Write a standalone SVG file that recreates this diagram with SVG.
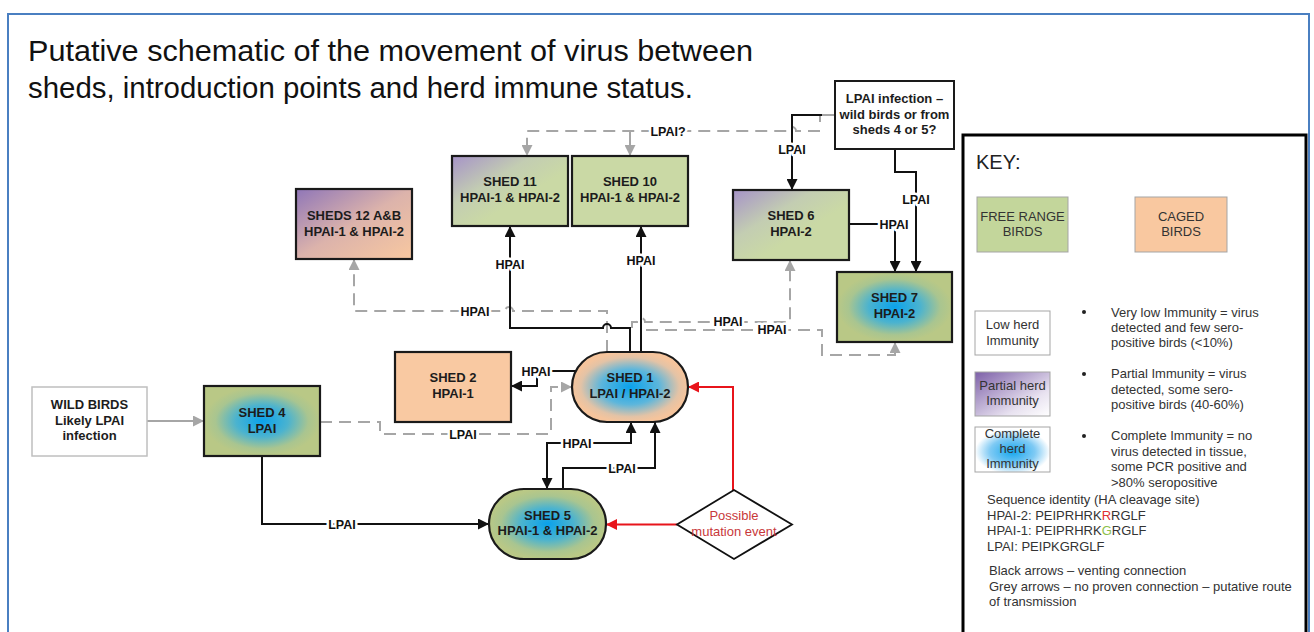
<svg xmlns="http://www.w3.org/2000/svg" width="1314" height="632" viewBox="0 0 1314 632">
<style>
.n{stroke:#1a1a1a;stroke-width:2.2}
.t{font-family:"Liberation Sans",Arial,sans-serif;font-weight:bold;font-size:13px;fill:#1c1c1c;text-anchor:middle}
.lb{font-family:"Liberation Sans",Arial,sans-serif;font-weight:bold;font-size:12.5px;fill:#111;text-anchor:middle;stroke:#fff;stroke-width:5;paint-order:stroke;stroke-linejoin:round}
.b{fill:none;stroke:#111;stroke-width:2}
.g{fill:none;stroke:#a6a6a6;stroke-width:2;stroke-dasharray:12 7}
.gs{fill:none;stroke:#a6a6a6;stroke-width:2}
.r{fill:none;stroke:#e8141b;stroke-width:2}
.k{font-family:"Liberation Sans",Arial,sans-serif;font-size:13px;fill:#333}
.kc{font-family:"Liberation Sans",Arial,sans-serif;font-size:13px;fill:#333;text-anchor:middle}
.kb{stroke:#a5a5a5;stroke-width:1}
.title{font-family:"Liberation Sans",Arial,sans-serif;font-size:29px;fill:#111}
</style>
<defs>
<marker id="ab" viewBox="0 0 10 10" refX="10" refY="5" markerWidth="11" markerHeight="11" markerUnits="userSpaceOnUse" orient="auto-start-reverse"><path d="M0,0 L10,5 L0,10 z" fill="#111"/></marker>
<marker id="ag" viewBox="0 0 10 10" refX="10" refY="5" markerWidth="11" markerHeight="11" markerUnits="userSpaceOnUse" orient="auto"><path d="M0,0 L10,5 L0,10 z" fill="#a6a6a6"/></marker>
<marker id="ar" viewBox="0 0 10 10" refX="10" refY="5" markerWidth="11" markerHeight="11" markerUnits="userSpaceOnUse" orient="auto"><path d="M0,0 L10,5 L0,10 z" fill="#e8141b"/></marker>
<radialGradient id="gBlue" cx=".5" cy=".5" r=".5">
<stop offset="0" stop-color="#0aa2ec"/>
<stop offset=".45" stop-color="#4bb3cf"/>
<stop offset=".8" stop-color="#a9c590"/>
<stop offset="1" stop-color="#b9c886"/>
</radialGradient>
<radialGradient id="pBlue" cx=".5" cy=".5" r=".5">
<stop offset="0" stop-color="#0aa2ec"/>
<stop offset=".5" stop-color="#5cb6dc"/>
<stop offset=".85" stop-color="#e3c3a6"/>
<stop offset="1" stop-color="#f5c49c"/>
</radialGradient>
<linearGradient id="pGreen" x1="0" y1="0" x2="1" y2="1">
<stop offset="0" stop-color="#a693c8"/>
<stop offset=".35" stop-color="#c3cdb2"/>
<stop offset=".6" stop-color="#cad9a5"/>
<stop offset="1" stop-color="#cad9a5"/>
</linearGradient>
<linearGradient id="pPeach" x1="0" y1="0" x2="1" y2="1">
<stop offset="0" stop-color="#8f76b8"/>
<stop offset=".5" stop-color="#dcb3ab"/>
<stop offset="1" stop-color="#f8c8a0"/>
</linearGradient>
<linearGradient id="kPart" x1="0" y1="0" x2="1" y2="1">
<stop offset="0" stop-color="#7d60a8"/>
<stop offset=".7" stop-color="#e8e2f0"/>
<stop offset="1" stop-color="#ffffff"/>
</linearGradient>
<radialGradient id="kComp" cx=".5" cy=".55" r=".5">
<stop offset="0" stop-color="#16a6ee"/>
<stop offset=".6" stop-color="#7fcaf4"/>
<stop offset="1" stop-color="#ffffff"/>
</radialGradient>
</defs>
<rect x="0" y="0" width="1314" height="632" fill="#fff"/>
<rect x="8" y="14" width="1301" height="650" fill="none" stroke="#4a7fc1" stroke-width="2"/>

<g id="title">
<text class="title" x="28" y="61" textLength="725" lengthAdjust="spacingAndGlyphs">Putative schematic of the movement of virus between</text>
<text class="title" x="28" y="98" textLength="665" lengthAdjust="spacingAndGlyphs">sheds, introduction points and herd immune status.</text>
</g>

<g id="connectors">
<!-- grey -->
<path class="gs" d="M147,421 H204" marker-end="url(#ag)"/>
<path class="g" d="M320,422 H380 V434 H551 V387 H572" marker-end="url(#ag)"/>
<path class="g" d="M607,352 V311 H513 a4,4 0 0 0 -8,0 H354 V259" marker-end="url(#ag)"/>
<path class="g" d="M632,328 V322 H637 a4,4 0 0 1 8,0 H790 V260" marker-end="url(#ag)"/>
<path class="g" d="M646,330 H822 V355 H895 V342" marker-end="url(#ag)"/>
<path class="gs" d="M835,115 H820 V122"/>
<path class="g" d="M820,131 H796 a4,4 0 0 0 -8,0 H527 V156" marker-end="url(#ag)"/>
<path class="gs" d="M630,131 V156" marker-end="url(#ag)"/>
<!-- black -->
<path class="b" d="M262,456 V524 H489" marker-end="url(#ab)"/>
<path class="b" d="M576,371 H537 V386 H511" marker-end="url(#ab)"/>
<path class="b" d="M630,352 V328 H611 a4,4 0 0 0 -8,0 H510 V226" marker-end="url(#ab)"/>
<path class="b" d="M641,352 V226" marker-end="url(#ab)"/>
<path class="b" d="M822,115 H792 V190" marker-end="url(#ab)"/>
<path class="b" d="M895,149 V172 H916 V272" marker-end="url(#ab)"/>
<path class="b" d="M849,224 H895 V272" marker-end="url(#ab)"/>
<path class="b" d="M563,489 V468 H655 V422" marker-end="url(#ab)"/>
<path class="b" d="M547,489 V443 H631 V422" marker-start="url(#ab)" marker-end="url(#ab)"/>
<!-- red -->
<path class="r" d="M733,490 V387 H688" marker-end="url(#ar)"/>
<path class="r" d="M677,524.5 H606" marker-end="url(#ar)"/>
<!-- labels -->
<text class="lb" x="342" y="528.5">LPAI</text>
<text class="lb" x="536" y="376">HPAI</text>
<text class="lb" x="510" y="268.5">HPAI</text>
<text class="lb" x="641" y="264.5">HPAI</text>
<text class="lb" x="792" y="153.5">LPAI</text>
<text class="lb" x="916" y="204">LPAI</text>
<text class="lb" x="894" y="229">HPAI</text>
<text class="lb" x="622" y="472.5">LPAI</text>
<text class="lb" x="577" y="447.5">HPAI</text>
<text class="lb" x="463" y="438.5">LPAI</text>
<text class="lb" x="475" y="315.5">HPAI</text>
<text class="lb" x="728" y="326">HPAI</text>
<text class="lb" x="772" y="334">HPAI</text>
<text class="lb" x="668" y="135.5">LPAI?</text>
</g>

<g id="wild-birds">
<rect x="32" y="387" width="115" height="69" fill="#fff" stroke="#bfbfbf" stroke-width="1.5"/>
<text class="t" x="89.5" y="409">WILD BIRDS</text>
<text class="t" x="89.5" y="425">Likely LPAI</text>
<text class="t" x="89.5" y="440">infection</text>
</g>
<g id="shed4">
<rect class="n" x="204" y="386" width="116" height="70" fill="url(#gBlue)"/>
<text class="t" x="262" y="417">SHED 4</text>
<text class="t" x="262" y="433">LPAI</text>
</g>
<g id="shed2">
<rect class="n" x="395" y="352" width="116" height="70" fill="#f9c9a2"/>
<text class="t" x="453" y="382">SHED 2</text>
<text class="t" x="453" y="398">HPAI-1</text>
</g>
<g id="shed12">
<rect class="n" x="296" y="189" width="116" height="70" fill="url(#pPeach)"/>
<text class="t" x="354" y="220">SHEDS 12 A&amp;B</text>
<text class="t" x="354" y="236">HPAI-1 &amp; HPAI-2</text>
</g>
<g id="shed11">
<rect class="n" x="452" y="156" width="116" height="70" fill="url(#pGreen)"/>
<text class="t" x="510" y="186">SHED 11</text>
<text class="t" x="510" y="202">HPAI-1 &amp; HPAI-2</text>
</g>
<g id="shed10">
<rect class="n" x="572" y="156" width="116" height="70" fill="#cad9a5"/>
<text class="t" x="630" y="186">SHED 10</text>
<text class="t" x="630" y="202">HPAI-1 &amp; HPAI-2</text>
</g>
<g id="shed6">
<rect class="n" x="733" y="190" width="116" height="70" fill="url(#pGreen)"/>
<text class="t" x="791" y="220">SHED 6</text>
<text class="t" x="791" y="236">HPAI-2</text>
</g>
<g id="shed7">
<rect class="n" x="837" y="272" width="115" height="70" fill="url(#gBlue)"/>
<text class="t" x="894.5" y="302">SHED 7</text>
<text class="t" x="894.5" y="318">HPAI-2</text>
</g>
<g id="lpai-source">
<rect x="835" y="81" width="119" height="68" fill="#fff" stroke="#1a1a1a" stroke-width="2"/>
<text class="t" x="894.5" y="103">LPAI infection –</text>
<text class="t" x="894.5" y="119">wild birds or from</text>
<text class="t" x="894.5" y="134">sheds 4 or 5?</text>
</g>
<g id="shed1">
<rect class="n" x="572" y="352" width="116" height="70" rx="35" ry="35" fill="url(#pBlue)"/>
<text class="t" x="630" y="382">SHED 1</text>
<text class="t" x="630" y="398">LPAI / HPAI-2</text>
</g>
<g id="shed5">
<rect class="n" x="489" y="489" width="117" height="70" rx="35" ry="35" fill="url(#gBlue)"/>
<text class="t" x="547.5" y="520">SHED 5</text>
<text class="t" x="547.5" y="535">HPAI-1 &amp; HPAI-2</text>
</g>
<g id="mutation">
<polygon points="734,490 792,524.5 734,559 677,524.5" fill="#fff" stroke="#111" stroke-width="1.8"/>
<text x="734" y="520" font-family="Liberation Sans, Arial, sans-serif" font-size="13" fill="#c8383a" text-anchor="middle">Possible</text>
<text x="734" y="536" font-family="Liberation Sans, Arial, sans-serif" font-size="13" fill="#c8383a" text-anchor="middle">mutation event</text>
</g>

<g id="key">
<rect x="963" y="135" width="343" height="520" fill="#fff" stroke="#000" stroke-width="3"/>
<text x="976" y="169" font-family="Liberation Sans, Arial, sans-serif" font-size="20" fill="#222">KEY:</text>
<rect class="kb" x="977" y="197" width="91" height="55" fill="#c3d69b"/>
<text class="kc" x="1022.5" y="221">FREE RANGE</text>
<text class="kc" x="1022.5" y="236">BIRDS</text>
<rect class="kb" x="1135" y="197" width="92" height="55" fill="#f9c8a0"/>
<text class="kc" x="1181" y="221">CAGED</text>
<text class="kc" x="1181" y="236">BIRDS</text>

<rect class="kb" x="975" y="311" width="75" height="44" fill="#fff"/>
<text class="kc" x="1012.5" y="329">Low herd</text>
<text class="kc" x="1012.5" y="345">Immunity</text>
<rect class="kb" x="975" y="372" width="75" height="44" fill="url(#kPart)"/>
<text class="kc" x="1012.5" y="390">Partial herd</text>
<text class="kc" x="1012.5" y="405">Immunity</text>
<rect class="kb" x="975" y="427" width="75" height="45" fill="url(#kComp)"/>
<text class="kc" x="1012.5" y="438">Complete</text>
<text class="kc" x="1012.5" y="453">herd</text>
<text class="kc" x="1012.5" y="468">Immunity</text>

<circle cx="1084" cy="312" r="2" fill="#222"/>
<text class="k" x="1111" y="316.5">Very low Immunity = virus</text>
<text class="k" x="1111" y="331.5">detected and few sero-</text>
<text class="k" x="1111" y="346.5">positive birds (&lt;10%)</text>
<circle cx="1084" cy="374" r="2" fill="#222"/>
<text class="k" x="1111" y="378">Partial Immunity = virus</text>
<text class="k" x="1111" y="393.5">detected, some sero-</text>
<text class="k" x="1111" y="409">positive birds (40-60%)</text>
<circle cx="1084" cy="436" r="2" fill="#222"/>
<text class="k" x="1111" y="440">Complete Immunity = no</text>
<text class="k" x="1111" y="455.5">virus detected in tissue,</text>
<text class="k" x="1111" y="471">some PCR positive and</text>
<text class="k" x="1111" y="486.5">&gt;80% seropositive</text>

<text class="k" x="987" y="504">Sequence identity (HA cleavage site)</text>
<text class="k" x="987" y="519.5">HPAI-2: PEIPRHRK<tspan fill="#e03030">R</tspan>RGLF</text>
<text class="k" x="987" y="535">HPAI-1: PEIPRHRK<tspan fill="#8cc04a">G</tspan>RGLF</text>
<text class="k" x="987" y="550.5">LPAI: PEIPKGRGLF</text>

<text class="k" x="989" y="575">Black arrows – venting connection</text>
<text class="k" x="989" y="590.5">Grey arrows – no proven connection – putative route</text>
<text class="k" x="989" y="605.5">of transmission</text>
</g>
</svg>
